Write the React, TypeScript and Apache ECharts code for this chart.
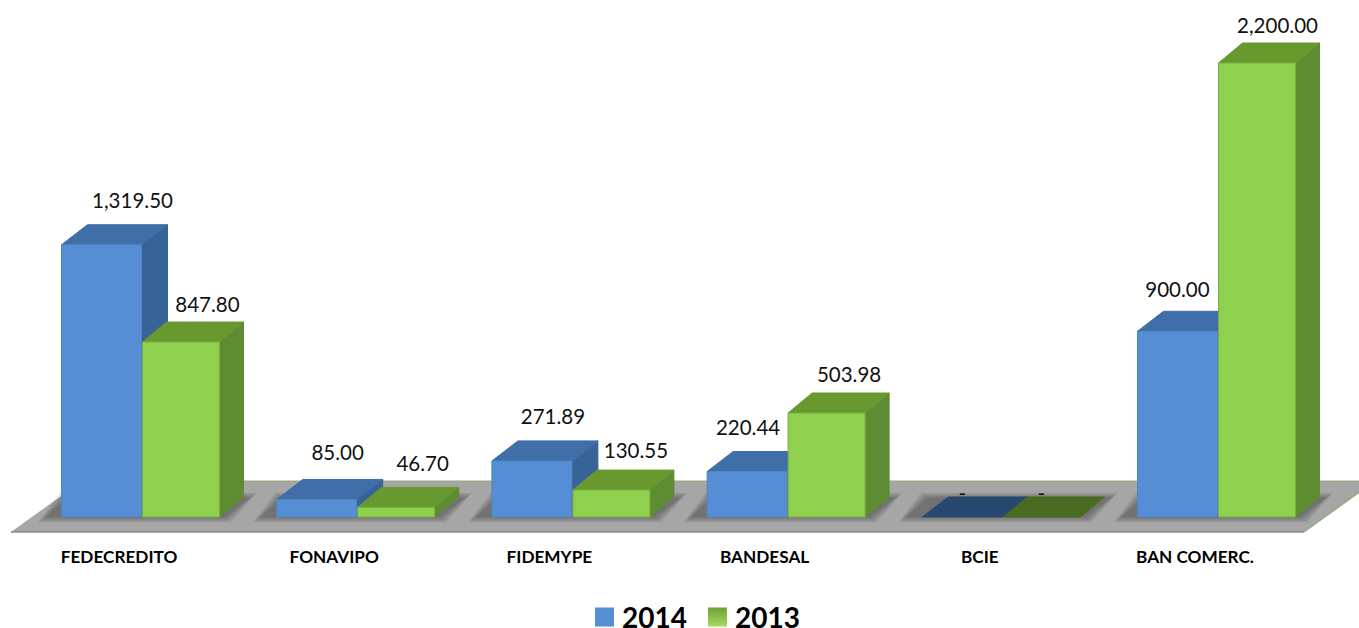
import React, { useEffect, useRef } from "react";
import * as echarts from "echarts";

const categories = ["FEDECREDITO", "FONAVIPO", "FIDEMYPE", "BANDESAL", "BCIE", "BAN COMERC."];
const values2014 = [1319.5, 85, 271.89, 220.44, 0, 900];
const values2013 = [847.8, 46.7, 130.55, 503.98, 0, 2200];

// Hand-placed label nudges of the reference, [dx from cluster centre, dy from bar top]
const nudge2014 = [[-9, -45], [-19, -47], [-19, -45], [-39, -45], [-40, -24], [-40, -42]];
const nudge2013 = [[66, -38], [66, -44], [64, -40], [62, -39], [39, -24], [60, -38]];

const FONT = "Lato, 'Open Sans', sans-serif";
const DEPTH_Y = 20;

type Palette = { front: string; top: string; side: string; edge: string; zero: string; depth: number };
const BLUE: Palette = { front: "#558ed5", top: "#3f6ea8", side: "#376396", edge: "#4f86bd", zero: "#28496f", depth: 26 };
const GREEN: Palette = { front: "#8fd14f", top: "#67992f", side: "#5d8c32", edge: "#76ad45", zero: "#4a6b22", depth: 24 };

const fmt = (v: number) =>
  v === 0 ? "-" : v.toLocaleString("en-US", { minimumFractionDigits: 2, maximumFractionDigits: 2 });

function barRenderer(pal: Palette, x0: number, width: number, nudges: number[][]) {
  return (params: any, api: any) => {
    const i = api.value(0);
    const v = api.value(1);
    const [cx, yTop] = api.coord([i, v]);
    const [, yBase] = api.coord([i, 0]);
    const l = cx + x0;
    const r = l + width;
    const d = pal.depth;
    const [nx, ny] = nudges[params.dataIndex];
    const label = {
      type: "text",
      z2: 20,
      style: {
        text: fmt(v),
        x: cx + nx,
        y: yTop + ny,
        align: "center",
        verticalAlign: "middle",
        fill: "#111",
        font: `20.5px ${FONT}`,
      },
    };
    const poly = (pts: number[][], fill: string, stroke = fill) => ({
      type: "polygon",
      shape: { points: pts },
      style: { fill, stroke, lineWidth: 1 },
    });
    if (v === 0) {
      return {
        type: "group",
        children: [
          poly([[l, yBase], [r, yBase], [r + d, yBase - DEPTH_Y], [l + d, yBase - DEPTH_Y]], pal.zero),
          label,
        ],
      };
    }
    return {
      type: "group",
      children: [
        poly([[r, yTop], [r + d, yTop - DEPTH_Y], [r + d, yBase - DEPTH_Y], [r, yBase]], pal.side),
        poly([[l, yTop], [l + d, yTop - DEPTH_Y], [r + d, yTop - DEPTH_Y], [r, yTop]], pal.top),
        poly([[l, yTop], [r, yTop], [r, yBase], [l, yBase]], pal.front, pal.edge),
        label,
      ],
    };
  };
}

// Soft contact shadow on the floor, built from nested translucent layers
function shadowRenderer(_params: any, api: any) {
  const [cx, yBase] = api.coord([api.value(0), 0]);
  const layers = [0, 1, 2, 3, 4, 5].map((k) => {
    const e = k * 1.5;
    return {
      type: "polygon",
      shape: {
        points: [
          [cx - 96 - e, yBase + e * 0.7],
          [cx + 82 + e, yBase + e * 0.7],
          [cx + 108 + e, yBase - 19 - e * 0.7],
          [cx - 74 - e, yBase - 19 - e * 0.7],
        ],
      },
      style: { fill: "rgba(60,60,60,0.1)" },
    };
  });
  return { type: "group", children: layers };
}

export default function App() {
  const ref = useRef<HTMLDivElement>(null);
  useEffect(() => {
    const chart = echarts.init(ref.current!, undefined, { renderer: "svg" });
    chart.setOption({
      animation: false,
      backgroundColor: "#fff",
      grid: { left: 33.9, right: 33.9, top: 63, bottom: 111 },
      xAxis: {
        type: "category",
        data: categories,
        axisLine: { show: false },
        axisTick: { show: false },
        axisLabel: {
          interval: 0,
          margin: 31,
          padding: [0, 45, 0, 0],
          color: "#000",
          fontWeight: "bold",
          fontFamily: FONT,
          fontSize: 17.2,
        },
      },
      yAxis: { type: "value", min: 0, max: 2200, show: false },
      legend: {
        left: 595,
        top: 603,
        padding: 0,
        itemWidth: 19,
        itemHeight: 19,
        itemGap: 21,
        icon: "rect",
        textStyle: {
          fontFamily: FONT,
          fontWeight: "bold",
          fontSize: 28,
          color: "#000",
          padding: [0, 0, 0, 3],
        },
        data: [
          { name: "2014", itemStyle: { color: BLUE.front } },
          {
            name: "2013",
            itemStyle: {
              color: new echarts.graphic.LinearGradient(0, 0, 0, 1, [
                { offset: 0, color: "#6f9f35" },
                { offset: 1, color: "#a4dc60" },
              ]),
            },
          },
        ],
      },
      graphic: [
        {
          type: "polygon",
          z: 0,
          silent: true,
          shape: { points: [[11, 532], [1304, 532], [1375, 481], [82, 481]] },
          style: { fill: "#a6a6a6" },
        },
        {
          type: "polyline",
          z: 0,
          silent: true,
          shape: { points: [[11, 532], [1304, 532]] },
          style: { stroke: "#8a8a8a", lineWidth: 1.5, fill: "none" },
        },
        {
          type: "polyline",
          z: 0,
          silent: true,
          shape: { points: [[82, 481], [1375, 481], [1304, 532]] },
          style: { stroke: "#8fae78", lineWidth: 1.2, fill: "none" },
        },
      ],
      series: [
        {
          type: "custom",
          name: "base",
          z: 1,
          silent: true,
          renderItem: shadowRenderer,
          data: categories.map((_, i) => [i, 0]),
        },
        {
          type: "custom",
          name: "2014",
          z: 2,
          renderItem: barRenderer(BLUE, -80, 80, nudge2014),
          data: values2014.map((v, i) => [i, v]),
        },
        {
          type: "custom",
          name: "2013",
          z: 3,
          renderItem: barRenderer(GREEN, 1, 77, nudge2013),
          data: values2013.map((v, i) => [i, v]),
        },
      ],
    });
    return () => chart.dispose();
  }, []);
  return (
    <div
      ref={ref}
      style={{ position: "absolute", left: 0, top: 0, width: 1359, height: 628, overflow: "hidden" }}
    />
  );
}
